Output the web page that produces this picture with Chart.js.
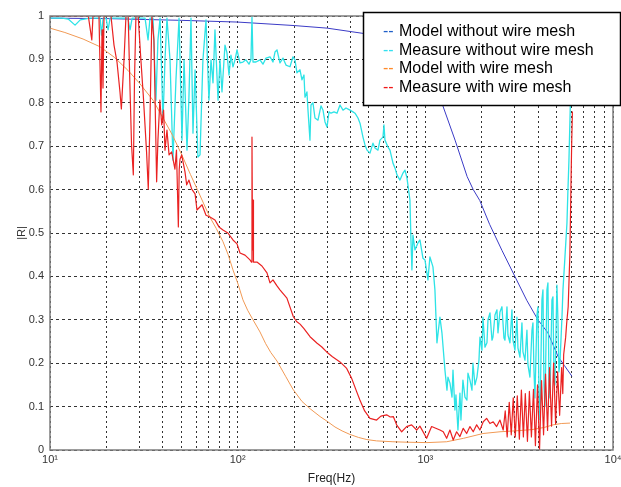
<!DOCTYPE html>
<html lang="en">
<head>
    <meta charset="UTF-8">
    <title>Reflection coefficient |R|</title>
    <style>
        * {
            margin: 0;
            padding: 0;
            box-sizing: border-box;
        }

        body {
            background-color: #fff;
            overflow: hidden;
        }

        #chart-container {
            width: 621px;
            height: 487px;
            position: relative;
        }
    </style>
    <script src="https://cdn.jsdelivr.net/npm/chart.js"></script>
</head>
<body>
    <div id="chart-container">
        <canvas id="reflectionChart"></canvas>
    </div>

    <script>
        // Frequency grid of the log axis (Hz) and the decade labels
        const freqGrid = [10, 20, 30, 40, 50, 60, 70, 80, 90,
                          100, 200, 300, 400, 500, 600, 700, 800, 900,
                          1000, 2000, 3000, 4000, 5000, 6000, 7000, 8000, 9000, 10000];
        const decadeTicks = [10, 100, 1000, 10000];
        const decadeText = ['10\u00b9', '10\u00b2', '10\u00b3', '10\u2074'];

        // Model without wire mesh
        const modelNoMeshFreq = [10, 20, 50, 100, 200, 300, 500, 700, 900, 1050, 1240, 1440, 1670, 1800, 1950,
                                 2200, 2560, 3000, 3470, 3980, 4500, 5100, 5500, 6040];
        const modelNoMeshR = [0.995, 0.994, 0.99, 0.986, 0.978, 0.972, 0.958, 0.935, 0.9, 0.86, 0.793, 0.714, 0.63, 0.6, 0.575,
                              0.52, 0.46, 0.4, 0.345, 0.3, 0.27, 0.215, 0.195, 0.17];

        // Measure without wire mesh
        const measNoMeshFreq = [10, 11.6, 12.5, 13.6, 14.5, 16.3, 18.5, 18.8, 19.2, 19.9, 20.4, 20.9, 26.0, 26.7, 27.4,
            32.1, 33.3, 34.1, 35.4, 36.7, 37.6, 38.6, 40.0, 41.0, 42.0, 43.6, 45.2, 46.9, 48.7, 50.5,
            51.8, 53.7, 55.0, 56.4, 57.8, 59.3, 61.4, 63.0, 65.3, 67.8, 70.3, 72.1, 73.9, 75.7, 78.6,
            80.5, 82.5, 85.6, 87.7, 89.9, 92.1, 94.4, 96.8, 99.2, 102.9, 106.7, 110.7, 114.9, 117.7, 119.2,
            120.7, 125.2, 131.5, 136.4, 141.5, 148.7, 154.2, 158.1, 162, 168, 174.3, 180.9, 190, 197.1, 202,
            207, 214.8, 220.1, 225.6, 228.4, 234, 237, 242.8, 245.9, 251.9, 258.2, 267.9, 278, 284.9, 292,
            299.2, 306.7, 314.3, 326.1, 338.3, 351, 364.1, 377.8, 396.8, 411.6, 421.8, 437.7, 448.6, 465.3, 476.9,
            488.8, 507, 526, 539.1, 559.3, 573.2, 594.6, 602, 609.4, 632.3, 648, 672.3, 689, 706.2, 732.6,
            760, 778.8, 798.2, 827.9, 838.2, 848.5, 859, 880.3, 913.3, 936, 971, 995.4, 1032.5, 1058, 1098,
            1125, 1153, 1196, 1226, 1272, 1304, 1320, 1353, 1387, 1404, 1438, 1456, 1492, 1529, 1548,
            1586, 1626, 1666, 1687, 1729, 1772, 1794, 1838, 1884, 1931, 1955, 2003, 2028, 2078, 2130,
            2157, 2210, 2265, 2293, 2350, 2408, 2438, 2498, 2560, 2624, 2656, 2723, 2756, 2824, 2894,
            2930, 3003, 3077, 3115, 3193, 3272, 3313, 3395, 3479, 3522, 3609, 3700, 3745, 3792, 3838,
            3933, 3982, 4031, 4081, 4182, 4234, 4287, 4339, 4446, 4501, 4557, 4613, 4728, 4786, 4845,
            4905, 5026, 5088, 5152, 5215, 5346, 5412, 5546, 5684, 5754, 5825, 5896, 5970, 6043, 6118];
        const measNoMeshR = [0.995, 0.995, 0.993, 0.979, 0.991, 0.995, 0.995, 0.956, 0.995, 0.995, 0.968, 0.995, 0.995, 0.968, 0.995,
            0.995, 0.945, 0.995, 0.995, 0.806, 0.945, 0.995, 0.76, 0.899, 0.995, 0.899, 0.668, 0.853, 0.995, 0.714,
            0.899, 0.691, 0.813, 0.995, 0.73, 0.876, 0.675, 0.68, 0.899, 0.991, 0.806, 0.899, 0.846, 0.968, 0.806,
            0.899, 0.825, 0.933, 0.915, 0.864, 0.91, 0.883, 0.899, 0.922, 0.892, 0.894, 0.899, 0.889, 0.899, 0.998,
            0.894, 0.894, 0.899, 0.889, 0.903, 0.906, 0.894, 0.917, 0.922, 0.892, 0.903, 0.887, 0.883, 0.906, 0.899,
            0.869, 0.876, 0.853, 0.864, 0.813, 0.825, 0.783, 0.714, 0.795, 0.8, 0.765, 0.76, 0.793, 0.783, 0.756,
            0.744, 0.779, 0.776, 0.779, 0.776, 0.795, 0.783, 0.788, 0.783, 0.779, 0.776, 0.765, 0.753, 0.721, 0.703,
            0.691, 0.684, 0.707, 0.696, 0.691, 0.714, 0.721, 0.749, 0.714, 0.698, 0.691, 0.661, 0.65, 0.634, 0.622,
            0.638, 0.645, 0.627, 0.576, 0.484, 0.415, 0.495, 0.461, 0.477, 0.484, 0.442, 0.438, 0.392, 0.445, 0.422,
            0.369, 0.247, 0.306, 0.27, 0.184, 0.138, 0.168, 0.154, 0.122, 0.184, 0.092, 0.127, 0.046, 0.131, 0.069,
            0.161, 0.122, 0.115, 0.177, 0.161, 0.138, 0.2, 0.15, 0.168, 0.207, 0.26, 0.23, 0.306, 0.237, 0.247,
            0.3, 0.316, 0.253, 0.26, 0.311, 0.323, 0.27, 0.318, 0.33, 0.258, 0.253, 0.33, 0.265, 0.247, 0.323,
            0.253, 0.23, 0.306, 0.235, 0.214, 0.293, 0.226, 0.207, 0.276, 0.196, 0.168, 0.276, 0.293, 0.184, 0.12,
            0.311, 0.33, 0.13, 0.07, 0.346, 0.369, 0.15, 0.1, 0.369, 0.385, 0.16, 0.12, 0.346, 0.353, 0.17,
            0.15, 0.38, 0.3, 0.18, 0.2, 0.306, 0.369, 0.445, 0.523, 0.6, 0.668, 0.76, 0.853, 0.945, 0.998];

        // Model with wire mesh
        const modelMeshFreq = [10, 12, 15, 18.5, 22, 26, 30, 35.4, 40, 45, 51, 56, 61, 66, 71, 77, 83.5, 89, 94.4, 100,
            106.7, 113, 120.7, 131.5, 141, 150, 162, 180, 197, 220, 245, 275, 300, 330, 360, 396, 440, 488, 550, 672,
            800, 1020, 1300, 1600, 2030, 2500, 3000, 3700, 4300, 4800, 5300, 5900];
        const modelMeshR = [0.972, 0.962, 0.947, 0.929, 0.905, 0.875, 0.845, 0.806, 0.765, 0.725, 0.675, 0.635, 0.6, 0.567, 0.537, 0.51, 0.48, 0.45, 0.415, 0.385,
            0.346, 0.322, 0.3, 0.272, 0.245, 0.225, 0.205, 0.17, 0.14, 0.112, 0.094, 0.077, 0.066, 0.053, 0.044, 0.036, 0.029, 0.024, 0.021, 0.019,
            0.018, 0.017, 0.019, 0.027, 0.038, 0.042, 0.044, 0.047, 0.052, 0.058, 0.061, 0.062];

        // Measure with wire mesh
        const measMeshFreq = [10, 16, 16.7, 16.95, 18.24, 18.69, 18.93, 19.16, 19.4, 21.13, 21.93, 22.75, 23.6, 24.0, 24.8,
            25.4, 26.1, 26.7, 27.2, 27.8, 28.2, 28.7, 29.5, 30.5, 31.4, 32.7, 33.4, 34.1, 34.9, 35.8,
            37.0, 37.6, 38.5, 39.4, 40.3, 41.0, 42.0, 43.1, 44.5, 46.3, 47.2, 48.3, 48.8, 49.3, 50.3,
            52.4, 53.5, 55.0, 56.9, 59.3, 60.7, 64.6, 67.8, 71.2, 75.7, 79.5, 83.5, 88.7, 94.4, 99.2,
            102.9, 109.4, 116.3, 118.5, 119.2, 120, 120.7, 121.4, 126.7, 134.7, 143.3, 148.7, 154.2, 162, 168,
            183, 198, 206, 215, 225, 243, 265, 280, 298, 320, 351, 381, 405, 430, 448,
            475, 507, 550, 580, 622, 650, 675, 703, 748, 795, 845, 899, 936, 1016, 1080,
            1196, 1246, 1299, 1352, 1408, 1468, 1529, 1592, 1660, 1729, 1800, 1877, 1954, 2035, 2121,
            2209, 2300, 2398, 2497, 2600, 2665, 2730, 2800, 2870, 2940, 3015, 3090, 3170, 3250, 3330,
            3410, 3500, 3585, 3675, 3770, 3860, 3960, 4060, 4160, 4265, 4370, 4480, 4590, 4705, 4825,
            4945, 5070, 5195, 5325, 5400, 5460, 5595, 5660, 5770, 5890, 5965, 6020, 6077];
        const measMeshR = [1, 1, 0.945, 1, 1, 0.779, 0.968, 0.834, 1, 1, 0.933, 0.894, 0.825, 0.786, 0.899,
            1, 1, 0.829, 0.703, 0.634, 0.853, 1, 1, 0.899, 0.818, 0.687, 0.601, 0.76, 1, 0.945,
            0.618, 0.714, 0.806, 0.749, 0.783, 0.691, 0.737, 0.68, 0.687, 0.647, 0.691, 0.514, 0.645, 0.67, 0.68,
            0.641, 0.611, 0.622, 0.601, 0.59, 0.553, 0.565, 0.541, 0.537, 0.53, 0.514, 0.507, 0.5, 0.484, 0.475,
            0.454, 0.449, 0.438, 0.433, 0.721, 0.461, 0.576, 0.433, 0.433, 0.424, 0.408, 0.385, 0.392, 0.378, 0.369,
            0.35, 0.307, 0.296, 0.29, 0.28, 0.261, 0.246, 0.238, 0.226, 0.215, 0.203, 0.188, 0.165, 0.135, 0.115,
            0.09, 0.073, 0.069, 0.078, 0.081, 0.076, 0.077, 0.058, 0.042, 0.054, 0.058, 0.046, 0.055, 0.027, 0.054,
            0.046, 0.042, 0.027, 0.046, 0.023, 0.042, 0.031, 0.05, 0.038, 0.054, 0.042, 0.058, 0.046, 0.065, 0.073,
            0.061, 0.065, 0.054, 0.069, 0.046, 0.09, 0.03, 0.11, 0.035, 0.12, 0.03, 0.125, 0.025, 0.138, 0.03,
            0.13, 0.02, 0.135, 0.03, 0.14, 0.01, 0.15, 0, 0.16, 0.035, 0.175, 0.045, 0.19, 0.055, 0.2,
            0.06, 0.18, 0.08, 0.19, 0.13, 0.22, 0.26, 0.29, 0.33, 0.45, 0.6, 0.7, 0.78];

        const fontFamily = 'Arial, "Liberation Sans", Helvetica, sans-serif';

        function toPoints(freq, r) {
            return freq.map((f, i) => ({ x: f, y: r[i] }));
        }

        // Box around the plotting area
        const framePlugin = {
            id: 'frame',
            afterDatasetsDraw(chart) {
                const { ctx, chartArea: a } = chart;
                ctx.save();
                ctx.strokeStyle = '#7d7d7d';
                ctx.lineWidth = 1.5;
                ctx.strokeRect(a.left, a.top, a.right - a.left, a.bottom - a.top);
                ctx.restore();
            }
        };

        // Boxed legend in the upper right corner
        const legendPlugin = {
            id: 'boxLegend',
            afterDraw(chart) {
                const ctx = chart.ctx;
                const left = 363, top = 12, width = 258, height = 94;
                ctx.save();
                ctx.fillStyle = '#fff';
                ctx.fillRect(left, top, width, height);
                ctx.strokeStyle = '#000';
                ctx.lineWidth = 1.5;
                ctx.strokeRect(left + 0.5, top + 0.5, width - 1, height - 1);
                ctx.font = '16px ' + fontFamily;
                ctx.textBaseline = 'middle';
                chart.data.datasets.forEach((ds, i) => {
                    const y = top + 20 + i * 18.4;
                    ctx.fillStyle = ds.legendColor;
                    ctx.fillText('--', left + 20, y);
                    ctx.fillStyle = '#000';
                    ctx.fillText(ds.label, left + 36, y);
                });
                ctx.restore();
            }
        };

        function drawChart() {
            const ctx = document.getElementById('reflectionChart').getContext('2d');
            new Chart(ctx, {
                type: 'line',
                data: {
                    datasets: [
                        {
                            label: 'Model without wire mesh',
                            data: toPoints(modelNoMeshFreq, modelNoMeshR),
                            borderColor: '#3b3bc6',
                            legendColor: '#1f5fc8',
                            borderWidth: 1,
                            order: 3
                        },
                        {
                            label: 'Measure without wire mesh',
                            data: toPoints(measNoMeshFreq, measNoMeshR),
                            borderColor: '#2de3e6',
                            legendColor: '#33e0f0',
                            borderWidth: 1.3,
                            order: 2
                        },
                        {
                            label: 'Model with wire mesh',
                            data: toPoints(modelMeshFreq, modelMeshR),
                            borderColor: '#f19a55',
                            legendColor: '#ff8a2a',
                            borderWidth: 1,
                            order: 1
                        },
                        {
                            label: 'Measure with wire mesh',
                            data: toPoints(measMeshFreq, measMeshR),
                            borderColor: '#ea2222',
                            legendColor: '#f01818',
                            borderWidth: 1.2,
                            order: 0
                        }
                    ].map(ds => Object.assign(ds, {
                        pointRadius: 0,
                        tension: 0,
                        fill: false,
                        borderJoinStyle: 'round'
                    }))
                },
                options: {
                    responsive: true,
                    maintainAspectRatio: false,
                    animation: false,
                    layout: {
                        padding: { left: 0, top: 16, right: 8, bottom: 0 }
                    },
                    plugins: {
                        legend: { display: false },
                        tooltip: { enabled: false }
                    },
                    scales: {
                        x: {
                            type: 'logarithmic',
                            min: 10,
                            max: 10000,
                            afterBuildTicks: scale => {
                                scale.ticks = freqGrid.map(v => ({ value: v }));
                            },
                            afterFit: scale => {
                                scale.height = 37;
                                scale.paddingLeft = 0;
                                scale.paddingRight = 0;
                            },
                            ticks: {
                                autoSkip: false,
                                maxRotation: 0,
                                padding: 3,
                                color: '#333',
                                font: { family: fontFamily, size: 11 },
                                callback: value => {
                                    const i = decadeTicks.indexOf(value);
                                    return i < 0 ? '' : decadeText[i];
                                }
                            },
                            grid: { color: 'rgba(0, 0, 0, 0.8)', drawTicks: false, lineWidth: 1 },
                            border: { display: false, dash: [2, 3] },
                            title: {
                                display: true,
                                text: 'Freq(Hz)',
                                color: '#222',
                                font: { family: fontFamily, size: 12 },
                                padding: { top: 0, bottom: 1 }
                            }
                        },
                        y: {
                            min: 0,
                            max: 1,
                            afterFit: scale => {
                                scale.width = 50;
                            },
                            ticks: {
                                stepSize: 0.1,
                                padding: 6,
                                color: '#333',
                                font: { family: fontFamily, size: 11 },
                                // plain labels: 0, 0.1, ... 0.9, 1
                                callback: value => String(Math.round(value * 10) / 10)
                            },
                            grid: { color: 'rgba(0, 0, 0, 0.8)', drawTicks: false, lineWidth: 1 },
                            border: { display: false, dash: [3, 3] },
                            title: {
                                display: true,
                                text: '|R|',
                                color: '#333',
                                font: { family: fontFamily, size: 11 },
                                padding: { top: 15, bottom: 0 }
                            }
                        }
                    }
                },
                plugins: [framePlugin, legendPlugin]
            });
        }

        document.addEventListener('DOMContentLoaded', drawChart);
    </script>
</body>
</html>
